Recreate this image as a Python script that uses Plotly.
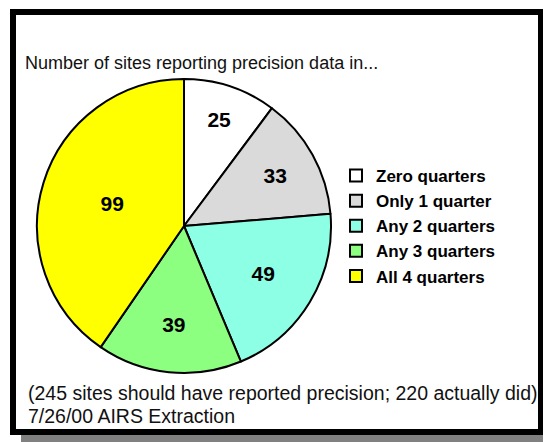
import plotly.graph_objects as go

# dados
categorias = ['Zero quarters', 'Only 1 quarter', 'Any 2 quarters', 'Any 3 quarters', 'All 4 quarters']
sites = [25, 33, 49, 39, 99]
cores = ['#FFFFFF', '#DADADA', '#8CFFE4', '#8CFF80', '#FFFF00']

titulo = 'Number of sites reporting precision data in...'
rodape_1 = '(245 sites should have reported precision; 220 actually did)'
rodape_2 = '7/26/00 AIRS Extraction'

# a página tem 8px de margem no body; a figura é menor e tudo é deslocado
OFF = 8
W, H = 551 - OFF, 442 - OFF
FONTE = 'Liberation Sans, Arial, sans-serif'


def px(x):
    return (x - OFF) / W


def py(y):
    return 1 - (y - OFF) / H


fig = go.Figure()
fig.add_trace(go.Pie(
    labels=categorias,
    values=sites,
    sort=False,
    direction='clockwise',
    rotation=0,
    marker=dict(colors=cores, line=dict(color='black', width=2)),
    textinfo='value',
    textposition='inside',
    insidetextorientation='horizontal',
    textfont=dict(family=FONTE, size=21, color='black', weight='bold'),
    domain=dict(x=[px(37), px(331)], y=[py(373), py(79)]),
    hoverinfo='label+value'
))

fig.update_layout(
    width=W,
    height=H,
    margin=dict(l=0, r=0, t=0, b=0),
    paper_bgcolor='white',
    plot_bgcolor='white',
    showlegend=True,
    legend=dict(
        x=px(336), xanchor='left',
        y=py(158), yanchor='top',
        font=dict(family=FONTE, size=17, color='black', weight='bold'),
        bgcolor='rgba(0,0,0,0)',
        borderwidth=0
    ),
    shapes=[
        # sombra
        dict(type='rect', xref='paper', yref='paper', layer='below',
             x0=px(21), x1=1.0, y0=0.0, y1=py(20),
             fillcolor='#808080', line=dict(width=0)),
        # moldura
        dict(type='rect', xref='paper', yref='paper', layer='below',
             x0=px(13), x1=px(541), y0=py(432), y1=py(12),
             fillcolor='white', line=dict(color='black', width=6)),
    ],
    annotations=[
        dict(text=titulo, xref='paper', yref='paper', x=px(23), y=py(63),
             xanchor='left', yanchor='middle', showarrow=False,
             font=dict(family=FONTE, size=18, color='#111111')),
        dict(text=rodape_1, xref='paper', yref='paper', x=px(26), y=py(393),
             xanchor='left', yanchor='middle', showarrow=False,
             font=dict(family=FONTE, size=19.5, color='#111111')),
        dict(text=rodape_2, xref='paper', yref='paper', x=px(26), y=py(416),
             xanchor='left', yanchor='middle', showarrow=False,
             font=dict(family=FONTE, size=19.5, color='#111111')),
    ]
)

fig.write_html('out.html')
